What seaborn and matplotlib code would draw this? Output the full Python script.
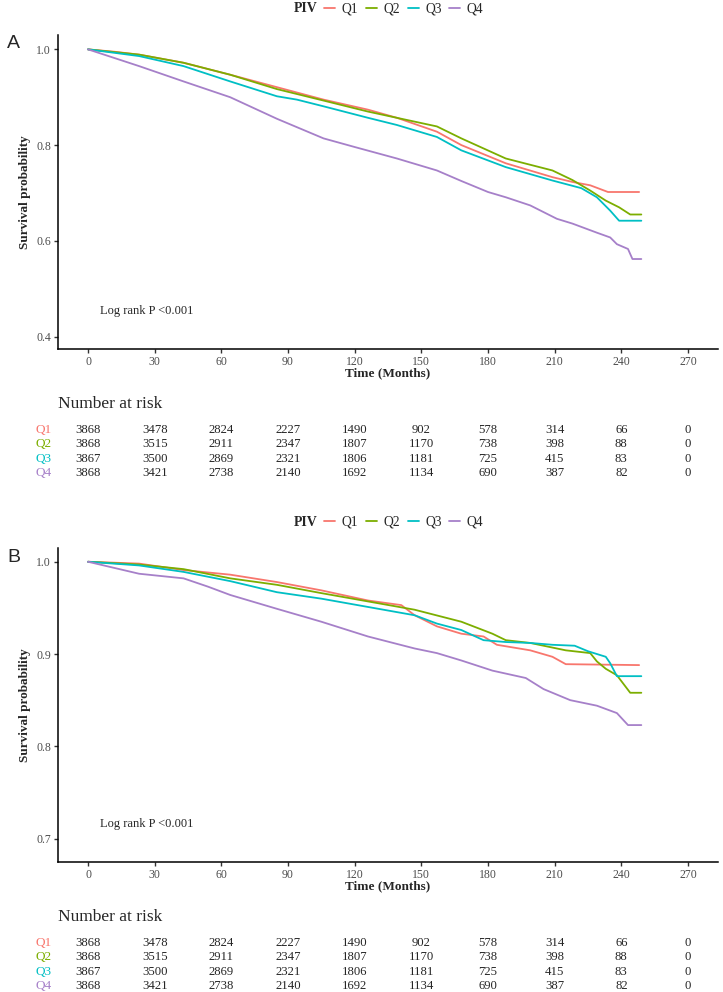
import matplotlib
matplotlib.use('Agg')
import matplotlib.pyplot as plt
import matplotlib.transforms as mtransforms
from matplotlib.lines import Line2D
import numpy as np
import pandas as pd
import seaborn as sns

# groups / colours
groups = ['Q1', 'Q2', 'Q3', 'Q4']
colors = ['#F8766D', '#7CAE00', '#00BFC4', '#A680C9']

# panel A survival curves (time in months, survival probability)
a_q1_t = [0, 12, 23, 43, 64, 85, 106, 126, 139, 157, 168, 188, 209, 218, 226, 234, 248]
a_q1_s = [1.0, 0.995, 0.989, 0.972, 0.947, 0.921, 0.895, 0.874, 0.857, 0.828, 0.800, 0.762, 0.733, 0.723, 0.716, 0.702, 0.702]
a_q2_t = [0, 23, 43, 64, 85, 106, 126, 139, 157, 168, 188, 209, 218, 226, 233, 239, 244, 249]
a_q2_s = [1.0, 0.989, 0.972, 0.947, 0.917, 0.893, 0.870, 0.857, 0.839, 0.814, 0.772, 0.747, 0.727, 0.705, 0.684, 0.670, 0.655, 0.655]
a_q3_t = [0, 23, 43, 64, 85, 94, 106, 126, 139, 157, 168, 188, 209, 222, 229, 235, 239, 249]
a_q3_s = [1.0, 0.986, 0.965, 0.933, 0.902, 0.895, 0.881, 0.857, 0.842, 0.817, 0.789, 0.754, 0.726, 0.710, 0.691, 0.663, 0.642, 0.642]
a_q4_t = [0, 23, 43, 64, 85, 106, 120, 139, 157, 168, 180, 188, 199, 211, 218, 229, 235, 238, 243, 245, 249]
a_q4_s = [1.0, 0.965, 0.933, 0.900, 0.855, 0.814, 0.796, 0.772, 0.747, 0.725, 0.702, 0.691, 0.674, 0.646, 0.636, 0.617, 0.607, 0.593, 0.583, 0.562, 0.562]

# panel B survival curves
b_q1_t = [0, 23, 43, 64, 85, 105, 126, 141, 147, 157, 168, 178, 184, 199, 209, 215, 248]
b_q1_s = [1.0, 0.998, 0.991, 0.986, 0.978, 0.969, 0.958, 0.953, 0.942, 0.930, 0.922, 0.919, 0.910, 0.904, 0.897, 0.889, 0.888]
b_q2_t = [0, 23, 43, 64, 85, 105, 126, 147, 168, 182, 188, 199, 215, 226, 229, 233, 238, 244, 249]
b_q2_s = [1.0, 0.997, 0.992, 0.982, 0.975, 0.966, 0.957, 0.948, 0.935, 0.922, 0.915, 0.912, 0.904, 0.901, 0.892, 0.884, 0.877, 0.858, 0.858]
b_q3_t = [0, 23, 43, 64, 85, 105, 126, 147, 157, 168, 178, 188, 199, 209, 219, 225, 233, 235, 238, 249]
b_q3_s = [1.0, 0.996, 0.989, 0.979, 0.967, 0.960, 0.951, 0.942, 0.933, 0.926, 0.915, 0.913, 0.912, 0.910, 0.909, 0.903, 0.897, 0.890, 0.876, 0.876]
b_q4_t = [0, 23, 43, 54, 64, 85, 105, 126, 147, 157, 168, 182, 197, 205, 217, 229, 238, 243, 249]
b_q4_s = [1.0, 0.987, 0.982, 0.973, 0.964, 0.949, 0.935, 0.919, 0.906, 0.901, 0.893, 0.882, 0.874, 0.862, 0.850, 0.844, 0.836, 0.823, 0.823]

# number at risk (same table under both panels)
risk_times = [0, 30, 60, 90, 120, 150, 180, 210, 240, 270]
risk_q1 = [3868, 3478, 2824, 2227, 1490, 902, 578, 314, 66, 0]
risk_q2 = [3868, 3515, 2911, 2347, 1807, 1170, 738, 398, 88, 0]
risk_q3 = [3867, 3500, 2869, 2321, 1806, 1181, 725, 415, 83, 0]
risk_q4 = [3868, 3421, 2738, 2140, 1692, 1134, 690, 387, 82, 0]

sns.set_style('white')
plt.rcParams['font.family'] = ['Liberation Serif', 'DejaVu Serif']

W, H = 723, 992
fig = plt.figure(figsize=(W / 100, H / 100), dpi=100)


def long_df(ts, ss):
    rows = []
    for g, t, s in zip(groups, ts, ss):
        rows.append(pd.DataFrame({'time': t, 'surv': s, 'PIV': g}))
    return pd.concat(rows, ignore_index=True)


def panel(top_px, bottom_px, df, ylim, yticks, letter):
    ax = fig.add_axes([58 / W, 1 - bottom_px / H, 660 / W, (bottom_px - top_px) / H])
    sns.lineplot(data=df, x='time', y='surv', hue='PIV', palette=colors,
                 linewidth=1.3, ax=ax, legend=False, sort=False)
    ax.set_xlim(-13.5, 283.5)
    ax.set_ylim(*ylim)
    ax.set_xticks(risk_times)
    ax.set_yticks(yticks)
    ax.set_yticklabels([f'{v:.1f}' for v in yticks])
    ax.set_xlabel('')
    ax.set_ylabel('')
    for side in ['top', 'right']:
        ax.spines[side].set_visible(False)
    for side in ['left', 'bottom']:
        ax.spines[side].set_color('black')
        ax.spines[side].set_linewidth(1.1)
    ax.tick_params(axis='both', length=3, width=1.0, color='#333333',
                   labelsize=8.5, labelcolor='#4D4D4D', pad=2, direction='out')
    ax.tick_params(left=True, bottom=True)

    # legend above the panel
    mid = (top_px - 26)
    fig.text(306 / W, 1 - mid / H, 'PIV', fontsize=10, fontweight='bold',
             ha='center', va='center')
    handles = [Line2D([0], [0], color=c, lw=1.3) for c in colors]
    fig.legend(handles, groups, loc='center left', bbox_to_anchor=(324 / W, 1 - mid / H),
               ncol=4, frameon=False, fontsize=9.8, handlelength=0.8,
               handletextpad=0.5, columnspacing=0.55, borderpad=0, borderaxespad=0)

    fig.text(7 / W, 1 - (top_px + 9) / H, letter, fontsize=14,
             family='Liberation Sans', ha='left', va='center')
    fig.text(25 / W, 1 - (top_px + bottom_px) / 2 / H, 'Survival probability',
             rotation=90, fontsize=9.5, fontweight='bold', ha='center', va='center')
    fig.text(388 / W, 1 - (bottom_px + 24) / H, 'Time (Months)',
             fontsize=9.5, fontweight='bold', ha='center', va='center')
    ax.text(5.4, ylim[0] + (ylim[1] - ylim[0]) * 0.12, 'Log rank P <0.001',
            fontsize=9, ha='left', va='center')

    # risk table
    fig.text(58 / W, 1 - (bottom_px + 55) / H, 'Number at risk', fontsize=12.5,
             ha='left', va='center')
    trans = mtransforms.blended_transform_factory(ax.transData, fig.transFigure)
    for i, (g, c, row) in enumerate(zip(groups, colors,
                                        [risk_q1, risk_q2, risk_q3, risk_q4])):
        y = 1 - (bottom_px + 81 + i * 14.3) / H
        fig.text(43.5 / W, y, g, color=c, fontsize=9.5, ha='center', va='center')
        for t, n in zip(risk_times, row):
            ax.text(t, y, str(n), transform=trans, fontsize=9.2,
                    ha='center', va='center', clip_on=False)
    return ax


df_a = long_df([a_q1_t, a_q2_t, a_q3_t, a_q4_t], [a_q1_s, a_q2_s, a_q3_s, a_q4_s])
df_b = long_df([b_q1_t, b_q2_t, b_q3_t, b_q4_t], [b_q1_s, b_q2_s, b_q3_s, b_q4_s])

panel(35, 349, df_a, (0.374, 1.030), [0.4, 0.6, 0.8, 1.0], 'A')
panel(548, 862, df_b, (0.6746, 1.0149), [0.7, 0.8, 0.9, 1.0], 'B')

fig.savefig('out.png', dpi=100)
